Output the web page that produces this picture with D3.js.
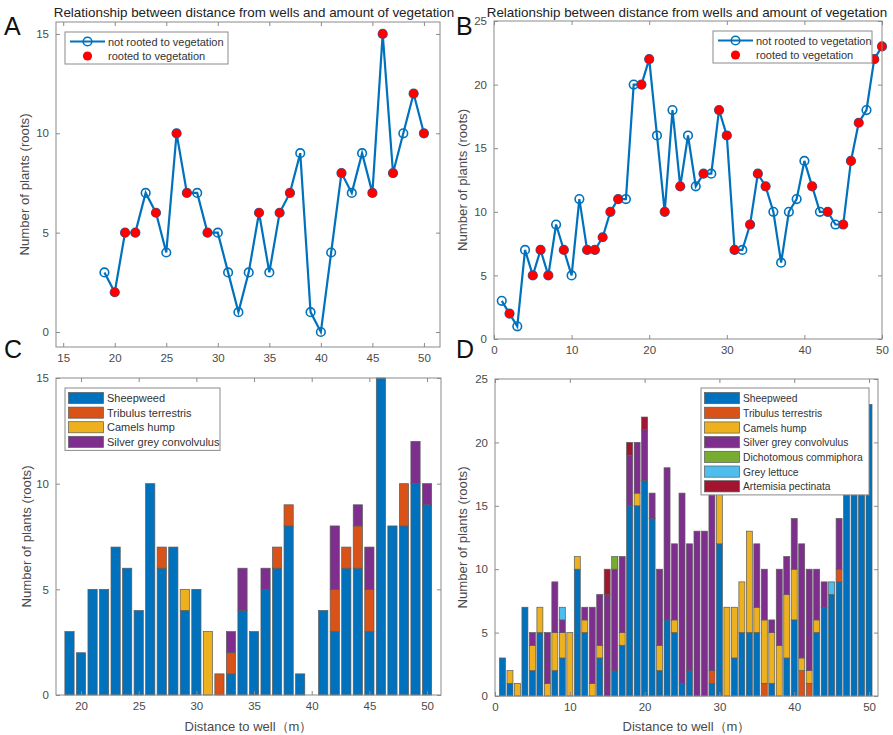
<!DOCTYPE html>
<html>
<head>
<meta charset="utf-8">
<script src="https://cdn.jsdelivr.net/npm/d3@7"></script>
<style>
  body { margin: 0; background: #fff; }
  svg { font-family: "Liberation Sans", Arial, sans-serif; }
</style>
</head>
<body>
<svg id="fig" width="893" height="735"></svg>
<script>
// ---- data ----
var distA = [19,20,21,22,23,24,25,26,27,28,29,30,31,32,33,34,35,36,37,38,39,40,41,42,43,44,45,46,47,48,49,50];
var plantsA = [3,2,5,5,7,6,4,10,7,7,5,5,3,1,3,6,3,6,7,9,1,0,4,8,7,9,7,15,8,10,12,10];
var rootedA = [20,21,22,24,26,27,29,34,36,37,42,45,46,47,49,50];

var distB = [1,2,3,4,5,6,7,8,9,10,11,12,13,14,15,16,17,18,19,20,21,22,23,24,25,26,27,28,29,30,31,32,33,34,35,36,37,38,39,40,41,42,43,44,45,46,47,48,49,50];
var plantsB = [3,2,1,7,5,7,5,9,7,5,11,7,7,8,10,11,11,20,20,22,16,10,18,12,16,12,13,13,18,16,7,7,9,13,12,10,6,10,11,14,12,10,10,9,9,14,17,18,22,23];
var rootedB = [2,5,6,7,9,12,13,14,15,16,19,20,22,24,27,29,30,31,33,34,35,41,43,45,46,47,49,50];

// panel C (distances 19..50)
var sheepC    = [3,2,5,5,7,6,4,10,6,7,4,5,0,0,1,4,3,5,6,8,1,0,4,3,6,6,3,15,8,8,10,9];
var tribulusC = [0,0,0,0,0,0,0,0,1,0,0,0,0,1,1,0,0,0,1,1,0,0,0,2,1,2,2,0,0,2,0,0];
var camelC    = [0,0,0,0,0,0,0,0,0,0,1,0,3,0,0,0,0,0,0,0,0,0,0,0,0,0,0,0,0,0,0,0];
var silverC   = [0,0,0,0,0,0,0,0,0,0,0,0,0,0,1,2,0,1,0,0,0,0,0,3,0,1,2,0,0,0,2,1];

// panel D (distances 1..50)
var sheepD    = [3,1,0,7,2,5,0,2,3,0,10,5,0,3,0,2,4,15,15,17,14,2,6,5,1,2,0,0,1,12,0,3,5,5,5,0,1,0,3,6,0,0,5,7,8,9,17,18,22,23];
var tribulusD = [0,0,0,0,0,0,0,0,0,0,0,0,0,0,0,0,0,0,0,0,0,0,0,0,0,0,0,0,1,0,0,0,0,0,0,1,0,0,0,0,2,1,0,0,0,1,0,0,0,0];
var camelD    = [0,1,1,0,2,2,1,3,2,5,1,1,1,1,0,0,1,0,1,0,0,2,0,1,0,0,0,0,0,4,7,4,4,8,2,5,4,4,5,4,1,1,1,0,0,0,0,0,0,0];
var silverD   = [0,0,0,0,1,0,4,4,1,0,0,1,6,4,8,8,6,4,4,4,2,6,12,6,15,10,13,13,16,0,0,0,0,0,5,4,1,6,3,4,9,8,4,2,0,4,0,0,0,0];
var commiphD  = [0,0,0,0,0,0,0,0,0,0,0,0,0,0,0,1,0,0,0,0,0,0,0,0,0,0,0,0,0,0,0,0,0,0,0,0,0,0,0,0,0,0,0,0,0,0,0,0,0,0];
var lettuceD  = [0,0,0,0,0,0,0,0,1,0,0,0,0,0,0,0,0,0,0,0,0,0,0,0,0,0,0,0,0,0,0,0,0,0,0,0,0,0,0,0,0,0,0,0,1,0,0,0,0,0];
var artemisD  = [0,0,0,0,0,0,0,0,0,0,0,0,0,0,2,0,0,1,0,1,0,0,0,0,0,0,0,0,0,0,0,0,0,0,0,0,0,0,0,0,0,0,0,0,0,0,0,0,0,0];

var speciesC = ["Sheepweed","Tribulus terrestris","Camels hump","Silver grey convolvulus"];
var speciesD = ["Sheepweed","Tribulus terrestris","Camels hump","Silver grey convolvulus","Dichotomous commiphora","Grey lettuce","Artemisia pectinata"];
var colors = ["#0072BD","#D95319","#EDB120","#7E2F8E","#77AC30","#4DBEEE","#A2142F"];

var titleText = "Relationship between distance from wells and amount of vegetation";
var yLabel = "Number of plants (roots)";
var xLabel = "Distance to well\uFF08m\uFF09";

var svg = d3.select("#fig");
var axisColor = "#8a8a8a", textColor = "#4a4a4a";

function makeAxes(p) {
    var x = d3.scaleLinear().domain(p.xd).range([p.l, p.r]);
    var y = d3.scaleLinear().domain(p.yd).range([p.b, p.t]);
    var g = svg.append("g");
    p.g = g; p.x = x; p.y = y;
    return p;
}

function finishAxes(p) {
    var g = p.g, x = p.x, y = p.y;
    var ax = [
        [d3.axisBottom(x).tickValues(p.xt).tickPadding(7), p.b, true],
        [d3.axisTop(x).tickValues(p.xt).tickFormat(""), p.t, true],
        [d3.axisLeft(y).tickValues(p.yt).tickPadding(7), p.l, false],
        [d3.axisRight(y).tickValues(p.yt).tickFormat(""), p.r, false]
    ];
    ax.forEach(function(a) {
        var t = a[2] ? "translate(0," + a[1] + ")" : "translate(" + a[1] + ",0)";
        var ag = g.append("g").attr("transform", t)
            .call(a[0].tickSizeInner(-4).tickSizeOuter(0));
        ag.select(".domain").remove();
        ag.selectAll("line").attr("stroke", axisColor);
        ag.selectAll("text").attr("fill", textColor).style("font-size", "11.5px");
    });
    g.append("rect")
        .attr("x", p.l).attr("y", p.t)
        .attr("width", p.r - p.l).attr("height", p.b - p.t)
        .attr("fill", "none").attr("stroke", axisColor).attr("stroke-width", 1);

    g.append("text")
        .attr("transform", "translate(" + p.ylx + "," + ((p.t + p.b) / 2) + ") rotate(-90)")
        .attr("text-anchor", "middle")
        .attr("fill", textColor)
        .style("font-size", "13.2px")
        .text(yLabel);

    if (p.title) {
        g.append("text")
            .attr("x", p.titleX).attr("y", 17)
            .attr("text-anchor", "middle")
            .attr("fill", "#222")
            .style("font-size", "13.4px")
            .text(titleText);
    }
    if (p.xlab) {
        g.append("text")
            .attr("x", (p.l + p.r) / 2).attr("y", 731)
            .attr("text-anchor", "middle")
            .attr("fill", textColor)
            .style("font-size", "13px")
            .text(xLabel);
    }
    svg.append("text")
        .attr("x", p.letterX).attr("y", p.letterY)
        .attr("fill", "#111")
        .style("font-size", "25px")
        .text(p.letter);
}

function linePanel(p, dist, vals, rooted) {
    var x = p.x, y = p.y, g = p.g;
    var pts = dist.map(function(d, i) { return { d: d, v: vals[i] }; });
    g.append("path")
        .datum(pts)
        .attr("fill", "none")
        .attr("stroke", colors[0])
        .attr("stroke-width", 2.2)
        .attr("d", d3.line().x(function(d) { return x(d.d); }).y(function(d) { return y(d.v); }));
    g.selectAll("circle.open").data(pts).enter().append("circle")
        .attr("class", "open")
        .attr("cx", function(d) { return x(d.d); })
        .attr("cy", function(d) { return y(d.v); })
        .attr("r", 4.3)
        .attr("fill", "none")
        .attr("stroke", colors[0])
        .attr("stroke-width", 1.6);
    g.selectAll("circle.red").data(pts.filter(function(d) { return rooted.indexOf(d.d) >= 0; }))
        .enter().append("circle")
        .attr("class", "red")
        .attr("cx", function(d) { return x(d.d); })
        .attr("cy", function(d) { return y(d.v); })
        .attr("r", 4.6)
        .attr("fill", "#ff0000");

    // legend
    var lg = g.append("g").attr("transform", "translate(" + p.legX + "," + p.legY + ")");
    lg.append("rect").attr("width", p.legW).attr("height", 32)
        .attr("fill", "#fff").attr("stroke", axisColor);
    lg.append("line").attr("x1", 5).attr("x2", 40).attr("y1", 9.5).attr("y2", 9.5)
        .attr("stroke", colors[0]).attr("stroke-width", 2.2);
    lg.append("circle").attr("cx", 22.5).attr("cy", 9.5).attr("r", 4.3)
        .attr("fill", "none").attr("stroke", colors[0]).attr("stroke-width", 1.6);
    lg.append("circle").attr("cx", 22.5).attr("cy", 24).attr("r", 4.6).attr("fill", "#ff0000");
    lg.append("text").attr("x", 43).attr("y", 13.5).attr("fill", "#333")
        .style("font-size", "11px").text("not rooted to vegetation");
    lg.append("text").attr("x", 43).attr("y", 28).attr("fill", "#333")
        .style("font-size", "11px").text("rooted to vegetation");
}

function barPanel(p, dist, series, names) {
    var x = p.x, y = p.y, g = p.g;
    var rows = dist.map(function(d, i) {
        var r = { d: d };
        names.forEach(function(n, k) { r[n] = series[k][i]; });
        return r;
    });
    var stack = d3.stack().keys(names)(rows);
    var bw = x(0.8) - x(0);
    stack.forEach(function(layer, k) {
        g.append("g").selectAll("rect").data(layer).enter().append("rect")
            .attr("x", function(d) { return x(d.data.d) - bw / 2; })
            .attr("width", bw)
            .attr("y", function(d) { return y(d[1]); })
            .attr("height", function(d) { return y(d[0]) - y(d[1]); })
            .attr("fill", colors[k])
            .attr("stroke", "#5a5a5a")
            .attr("stroke-width", 0.7);
    });

    var rowH = p.rowH;
    var lg = g.append("g").attr("transform", "translate(" + p.legX + "," + p.legY + ")");
    lg.append("rect").attr("width", p.legW).attr("height", names.length * rowH + 4)
        .attr("fill", "#fff").attr("stroke", axisColor);
    names.forEach(function(n, k) {
        lg.append("rect").attr("x", 3.5).attr("y", 3 + k * rowH + 1.5)
            .attr("width", 35).attr("height", rowH - 3.5)
            .attr("fill", colors[k]).attr("stroke", "#5a5a5a").attr("stroke-width", 0.7);
        lg.append("text").attr("x", 42).attr("y", 3 + k * rowH + rowH - 3.5)
            .attr("fill", "#333").style("font-size", p.legFont).text(n);
    });
}

// ---- panel A ----
var pA = makeAxes({ l: 56, r: 440, t: 22, b: 347, xd: [14.3, 51.56], yd: [-0.755, 15.6],
    xt: [15,20,25,30,35,40,45,50], yt: [0,5,10,15], ylx: 29, title: true, titleX: 254,
    letter: "A", letterX: 4, letterY: 35, legX: 65, legY: 32, legW: 163 });
linePanel(pA, distA, plantsA, rootedA);
finishAxes(pA);

// ---- panel B ----
var pB = makeAxes({ l: 494, r: 882, t: 21, b: 339, xd: [0, 50], yd: [0, 25],
    xt: [0,10,20,30,40,50], yt: [0,5,10,15,20,25], ylx: 467, title: true, titleX: 687,
    letter: "B", letterX: 456, letterY: 35, legX: 713, legY: 31, legW: 159 });
linePanel(pB, distB, plantsB, rootedB);
finishAxes(pB);

// ---- panel C ----
var pC = makeAxes({ l: 56, r: 441, t: 378, b: 695, xd: [17.83, 51.21], yd: [0, 15],
    xt: [20,25,30,35,40,45,50], yt: [0,5,10,15], ylx: 31, xlab: true,
    letter: "C", letterX: 4, letterY: 358, legX: 65, legY: 388, legW: 155, rowH: 14.6, legFont: "11px" });
barPanel(pC, distA, [sheepC, tribulusC, camelC, silverC], speciesC);
finishAxes(pC);

// ---- panel D ----
var pD = makeAxes({ l: 495, r: 878, t: 379, b: 696, xd: [0, 51.2], yd: [0, 25],
    xt: [0,10,20,30,40,50], yt: [0,5,10,15,20,25], ylx: 467, xlab: true,
    letter: "D", letterX: 456, letterY: 358, legX: 701, legY: 388, legW: 168, rowH: 14.7, legFont: "10.3px" });
barPanel(pD, distB, [sheepD, tribulusD, camelD, silverD, commiphD, lettuceD, artemisD], speciesD);
finishAxes(pD);
</script>
</body>
</html>
